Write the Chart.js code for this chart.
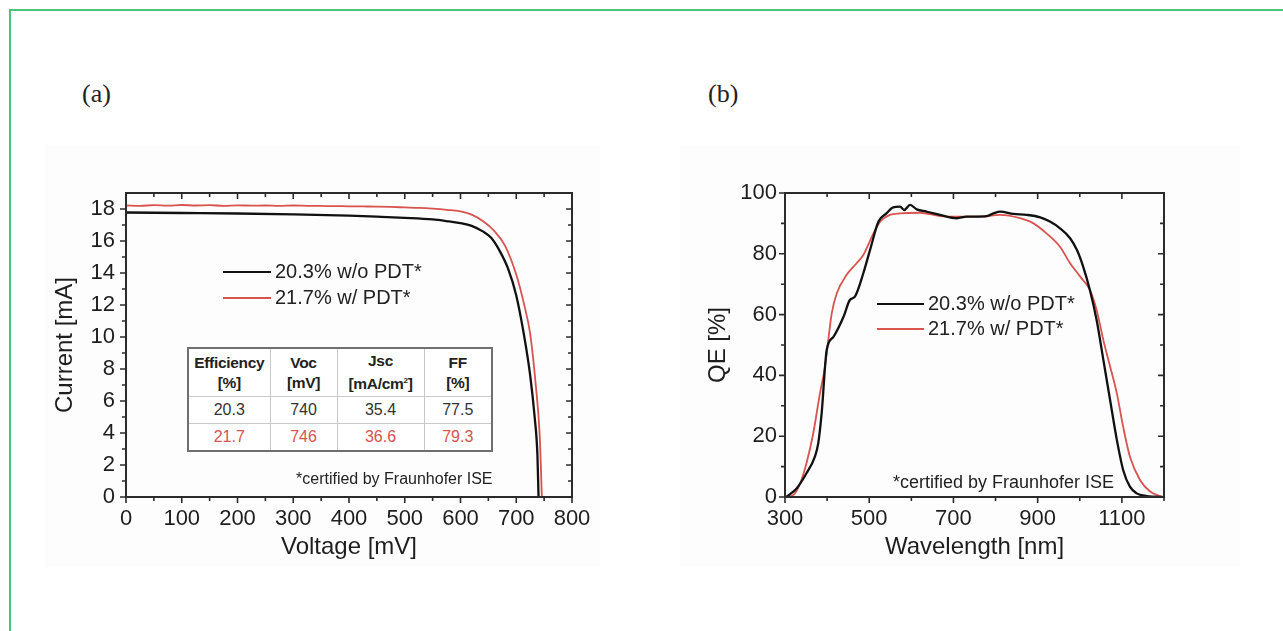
<!DOCTYPE html>
<html><head><meta charset="utf-8">
<script src="https://cdn.jsdelivr.net/npm/chart.js@4.4.1/dist/chart.umd.min.js"></script>
<style>
html,body{margin:0;padding:0;background:#fff;width:1283px;height:631px;overflow:hidden;font-family:"Liberation Sans",Arial,sans-serif;color:#222;}
#frame{position:absolute;left:9px;top:9px;width:1400px;height:800px;border-left:2px solid #4cc27a;border-top:2px solid #4cc27a;}
.bg{position:absolute;background:#fdfdfd;}
.panel{position:absolute;font-family:"Liberation Serif",serif;font-size:26px;color:#222;line-height:26px;}
canvas{position:absolute;}
.leg{position:absolute;font-size:20px;color:#222;white-space:nowrap;height:20px;line-height:20px;}
.leg i{display:inline-block;vertical-align:middle;height:0;margin-right:4px;position:relative;top:-1px;}
.note{position:absolute;white-space:nowrap;color:#222;}
#tbl{position:absolute;left:187px;top:347px;border-collapse:collapse;background:#fff;border:2px solid #6f6f6f;}
#tbl td,#tbl th{border:1px solid #c9c9c9;text-align:center;padding:0;}
#tbl th{font-size:15.5px;font-weight:bold;line-height:20px;height:47px;color:#222;letter-spacing:-0.3px;}
#tbl td{font-size:16px;height:26px;color:#333;}
#tbl tr.r td{color:#d9534f;}
</style>
</head><body>
<div id="frame"></div>
<div class="bg" style="left:45px;top:145px;width:555px;height:422px;"></div>
<div class="bg" style="left:680px;top:145px;width:560px;height:422px;"></div>
<div class="panel" style="left:82px;top:81px;">(a)</div>
<div class="panel" style="left:708px;top:81px;">(b)</div>
<canvas id="iv" width="600" height="420" style="left:20px;top:150px;width:600px;height:420px;"></canvas>
<canvas id="qe" width="560" height="420" style="left:660px;top:150px;width:560px;height:420px;"></canvas>

<div class="leg" style="left:223px;top:261px;"><i style="width:48px;border-top:2.5px solid #111;"></i>20.3% w/o PDT*</div>
<div class="leg" style="left:223px;top:287px;"><i style="width:48px;border-top:2px solid #d9534f;"></i>21.7% w/ PDT*</div>
<div class="leg" style="left:877px;top:293px;"><i style="width:47px;border-top:2.5px solid #111;"></i>20.3% w/o PDT*</div>
<div class="leg" style="left:877px;top:318px;"><i style="width:47px;border-top:2px solid #d9534f;"></i>21.7% w/ PDT*</div>

<table id="tbl">
<colgroup><col style="width:82px"><col style="width:67px"><col style="width:87px"><col style="width:68px"></colgroup>
<tr><th>Efficiency<br>[%]</th><th>Voc<br>[mV]</th><th>Jsc<br>[mA/cm<sup style="font-size:8px;">2</sup>]</th><th>FF<br>[%]</th></tr>
<tr><td>20.3</td><td>740</td><td>35.4</td><td>77.5</td></tr>
<tr class="r"><td>21.7</td><td>746</td><td>36.6</td><td>79.3</td></tr>
</table>

<div class="note" style="left:296px;top:470px;font-size:16px;">*certified by Fraunhofer ISE</div>
<div class="note" style="left:893px;top:472px;font-size:18px;">*certified by Fraunhofer ISE</div>

<script>
// ---------- (a) I-V curves ----------
const ivVoltageWo = [0,100,200,300,400,450,500,550,580,600,620,640,655,670,685,700,715,725,733,738,740];
const ivCurrentWo = [17.78,17.75,17.72,17.66,17.58,17.52,17.45,17.35,17.22,17.12,16.95,16.6,16.2,15.4,14.3,12.6,9.9,7.6,5.0,2.6,0];
const ivVoltageW = [0,25,50,75,100,125,150,175,200,225,250,275,300,325,350,375,400,425,450,475,500,525,550,575,600,620,640,660,680,700,715,725,735,742,746];
const ivCurrentW = [18.22,18.2,18.24,18.21,18.25,18.22,18.24,18.2,18.23,18.21,18.22,18.19,18.22,18.2,18.19,18.18,18.17,18.16,18.15,18.13,18.1,18.07,18.02,17.95,17.85,17.65,17.25,16.65,15.7,13.9,11.9,10.2,7.0,3.9,0];
const ivVoltageTicks = [0,100,200,300,400,500,600,700,800];
const ivVoltageMinor = [50,150,250,350,450,550,650,750];
const ivCurrentTicks = [0,2,4,6,8,10,12,14,16,18];
const ivCurrentMinor = [1,3,5,7,9,11,13,15,17];

// ---------- (b) QE curves ----------
const qeWavelengthWo = [304,328,351,371,379,387,399,415,439,454,466,486,502,522,541,557,573,583,597,613,636,668,708,731,779,795,811,842,874,906,929,953,977,993,1008,1024,1040,1056,1072,1088,1103,1119,1135,1159,1175,1195];
const qeWo = [0.1,2.9,7.8,13.3,17.7,27.5,48.4,52.7,59.3,64.8,65.9,73.6,81.3,90.6,93.3,95.3,95.5,94.4,96.1,94.6,93.9,92.8,91.7,92.2,92.4,93.3,93.9,93.1,92.8,92.0,90.6,88.4,85.1,81.3,75.8,68.1,58.2,45.1,31.9,18.8,8.9,3.4,1.2,0.3,0.1,0];
const qeWavelengthW = [304,320,336,351,367,383,395,411,423,446,470,486,510,526,549,573,621,668,716,763,811,858,890,921,953,977,1001,1024,1040,1056,1072,1088,1103,1119,1143,1167,1190,1198];
const qeW = [0.1,0.7,4.5,11.1,20.9,34.1,42.9,60.4,67,73,76.9,79.6,86.7,90.6,92.8,93.3,93.5,92.4,92.2,92.2,92.8,91.7,90.0,86.7,82.3,76.9,72.5,68.1,61.5,51.6,42.9,34.1,23.1,13.3,5.6,1.8,0.3,0];
const qeWavelengthTicks = [300,500,700,900,1100];
const qeWavelengthMinor = [400,600,800,1000,1200];
const qeTicks = [0,20,40,60,80,100];
const qeMinor = [10,30,50,70,90];

const FONT = '"Liberation Sans", Arial, sans-serif';
const BLACK = '#111111', RED = '#d9534f';

const framePlugin = {
  id: 'frame',
  afterDatasetsDraw(chart, args, opts) {
    const {ctx, chartArea: a, scales: {x, y}} = chart;
    ctx.save();
    ctx.strokeStyle = '#2b2b2b';
    ctx.lineWidth = 2;
    ctx.strokeRect(a.left, a.top, a.right - a.left, a.bottom - a.top);
    ctx.lineWidth = 1.6;
    ctx.beginPath();
    const xs = (vals, len) => vals.forEach(v => {
      const px = x.getPixelForValue(v);
      ctx.moveTo(px, a.bottom); ctx.lineTo(px, a.bottom + len);
      ctx.moveTo(px, a.top); ctx.lineTo(px, a.top + len);
    });
    const ys = (vals, len) => vals.forEach(v => {
      const py = y.getPixelForValue(v);
      ctx.moveTo(a.left, py); ctx.lineTo(a.left - len, py);
      ctx.moveTo(a.right, py); ctx.lineTo(a.right - len, py);
    });
    xs(opts.xMajor, 6); xs(opts.xMinor, 4);
    ys(opts.yMajor, 6); ys(opts.yMinor, 4);
    ctx.stroke();
    ctx.restore();
  }
};

function makeChart(id, cfg) {
  const pts = (xs, ys) => xs.map((v, i) => ({x: v, y: ys[i]}));
  return new Chart(document.getElementById(id), {
    type: 'scatter',
    data: {datasets: [
      {label: '20.3% w/o PDT*', data: pts(cfg.x1, cfg.y1), showLine: true, borderColor: BLACK, borderWidth: 2.3, pointRadius: 0, cubicInterpolationMode: 'monotone', order: 1},
      {label: '21.7% w/ PDT*', data: pts(cfg.x2, cfg.y2), showLine: true, borderColor: RED, borderWidth: 1.8, pointRadius: 0, cubicInterpolationMode: 'monotone', order: 2}
    ]},
    plugins: [framePlugin],
    options: {
      responsive: false, animation: false, events: [],
      layout: {padding: {left: 0, top: 43, right: cfg.padRight, bottom: 0}},
      plugins: {legend: {display: false}, tooltip: {enabled: false},
        frame: {xMajor: cfg.xTicks, xMinor: cfg.xMinor, yMajor: cfg.yTicks, yMinor: cfg.yMinor}},
      scales: {
        x: {type: 'linear', min: cfg.xMin, max: cfg.xMax,
          afterBuildTicks: s => { s.ticks = cfg.xTicks.map(v => ({value: v})); },
          afterFit: s => { s.height = 73; },
          grid: {display: false, drawTicks: false}, border: {display: false},
          ticks: {color: '#1e1e1e', font: {family: FONT, size: 22}, padding: 9, maxRotation: 0, autoSkip: false, callback: v => String(v)},
          title: {display: true, text: cfg.xTitle, color: '#1e1e1e', font: {family: FONT, size: 24}, padding: {top: 0, bottom: 8}}},
        y: {type: 'linear', min: cfg.yMin, max: cfg.yMax,
          afterBuildTicks: s => { s.ticks = cfg.yTicks.map(v => ({value: v})); },
          afterFit: s => { s.width = cfg.yWidth; },
          grid: {display: false, drawTicks: false}, border: {display: false},
          ticks: {color: '#1e1e1e', font: {family: FONT, size: 22}, padding: cfg.yPad, autoSkip: false, callback: v => String(v)},
          title: {display: true, text: cfg.yTitle, color: '#1e1e1e', font: {family: FONT, size: 24}, padding: {top: cfg.yTitlePad, bottom: 0}}}
      }
    }
  });
}

makeChart('iv', {x1: ivVoltageWo, y1: ivCurrentWo, x2: ivVoltageW, y2: ivCurrentW,
  xMin: 0, xMax: 800, yMin: 0, yMax: 19, xTicks: ivVoltageTicks, xMinor: ivVoltageMinor,
  yTicks: ivCurrentTicks, yMinor: ivCurrentMinor, xTitle: 'Voltage [mV]', yTitle: 'Current [mA]',
  padRight: 48, yWidth: 106, yPad: 11, yTitlePad: 31});

makeChart('qe', {x1: qeWavelengthWo, y1: qeWo, x2: qeWavelengthW, y2: qeW,
  xMin: 300, xMax: 1200, yMin: 0, yMax: 100, xTicks: qeWavelengthTicks, xMinor: qeWavelengthMinor,
  yTicks: qeTicks, yMinor: qeMinor, xTitle: 'Wavelength [nm]', yTitle: 'QE [%]',
  padRight: 56, yWidth: 125, yPad: 8, yTitlePad: 44});
</script>
</body></html>
